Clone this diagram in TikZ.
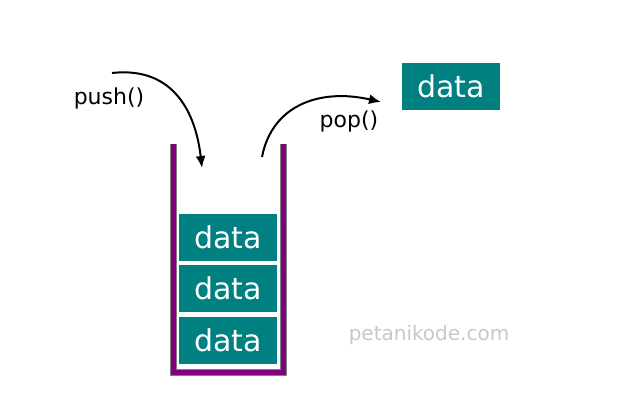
\documentclass[tikz,border=0pt]{standalone}
\usepackage{fontspec}
\setmainfont{DejaVu Sans}
\usetikzlibrary{positioning,arrows.meta}
\definecolor{stackteal}{HTML}{008080}
\definecolor{stackpurple}{HTML}{800080}
\definecolor{wallgray}{HTML}{808080}
\definecolor{markgray}{HTML}{C8C8C8}
\tikzset{
  databox/.style={fill=stackteal, text=white, minimum width=98pt, minimum height=47pt, inner sep=0pt, font=\fontsize{30}{35}\selectfont},
  oplabel/.style={font=\fontsize{22}{26}\selectfont, inner sep=0pt},
  oparrow/.style={line width=2pt, -{Latex[length=12pt,width=10pt]}}
}
\begin{document}
\begin{tikzpicture}[x=1pt,y=-1pt]
\useasboundingbox (0,0) rectangle (617,415);
% the stack walls
\draw[wallgray, line width=7pt] (173.5,144) -- (173.5,372.5) -- (283.5,372.5) -- (283.5,144);
\draw[stackpurple, line width=5pt] (173.5,144) -- (173.5,372.5) -- (283.5,372.5) -- (283.5,144);
% items on the stack
\node[databox] (d3) at (228,340) {data};
\node[databox, above=4pt of d3] (d2) {data};
\node[databox, above=4pt of d2] (d1) {data};
\node[databox] (popped) at (451,86.5) {data};
% operations
\node[oplabel] (push) at (109,98) {push()};
\node[oplabel] (pop) at (349,121) {pop()};
\coordinate (pushfrom) at (112,73);
\coordinate (pushto) at (202,168);
\coordinate (popfrom) at (262,157);
\coordinate (popto) at (381,102);
\draw[oparrow] (pushfrom) .. controls (175,66) and (196,115) .. (pushto);
\draw[oparrow] (popfrom) .. controls (272,105) and (320,88) .. (popto);
\node[font=\fontsize{20}{24}\selectfont, text=markgray] (mark) at (429,335) {petanikode.com};
\end{tikzpicture}
\end{document}
